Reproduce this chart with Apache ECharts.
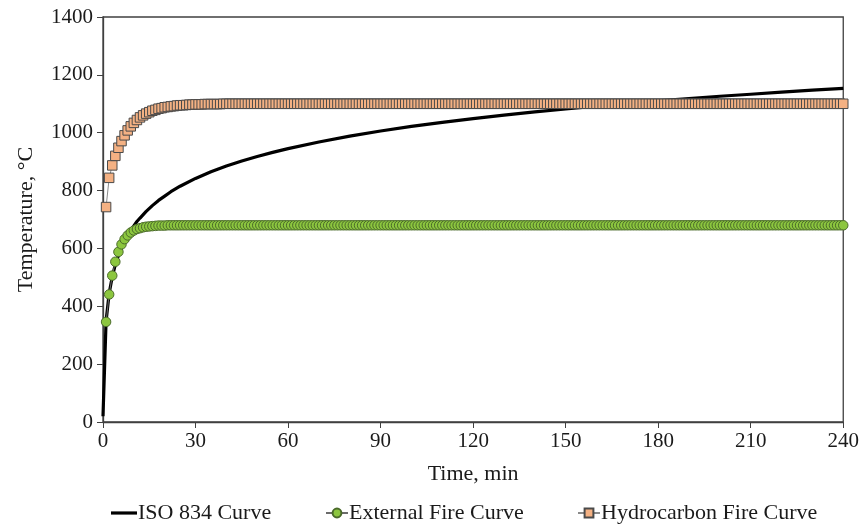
<!DOCTYPE html>
<html>
<head>
<meta charset="utf-8">
<script src="https://cdn.jsdelivr.net/npm/echarts@6/dist/echarts.min.js"></script>
<style>
  html, body { margin: 0; padding: 0; background: #fff; }
  #chart { width: 862px; height: 524px; }
</style>
</head>
<body>
<div id="chart"></div>
<script>
// ISO 834 curve, read at selected minutes
const isoTime = [0, 1, 2, 3, 4, 5, 6, 7, 8, 9, 10, 11, 12, 14, 16, 18, 20, 22, 25, 30, 35, 40, 45, 50, 55, 60,
  70, 80, 90, 100, 110, 120, 130, 140, 150, 160, 170, 180, 190, 200, 210, 220, 230, 240];
const isoTemp = [20, 349, 445, 502, 544, 576, 603, 626, 645, 663, 678, 693, 705, 728, 748, 766, 781, 796, 815, 842, 865, 885, 902, 918, 932, 945,
  968, 988, 1006, 1022, 1036, 1049, 1061, 1072, 1082, 1092, 1101, 1110, 1118, 1126, 1133, 1140, 1147, 1153];

// External fire curve, one marker per minute (t = 1..240)
const externalTemp = [
  346, 441, 506, 554, 588, 614, 632, 645, 655, 662,       // 1-10
  667, 670, 673, 675, 676, 677, 678, 679, 679, 679,       // 11-20
  680, 680, 680, 680, 680, 680, 680, 680, 680, 680,       // 21-30
  680, 680, 680, 680, 680, 680, 680, 680, 680, 680,       // 31-40
  680, 680, 680, 680, 680, 680, 680, 680, 680, 680,       // 41-50
  680, 680, 680, 680, 680, 680, 680, 680, 680, 680,       // 51-60
  680, 680, 680, 680, 680, 680, 680, 680, 680, 680,       // 61-70
  680, 680, 680, 680, 680, 680, 680, 680, 680, 680,       // 71-80
  680, 680, 680, 680, 680, 680, 680, 680, 680, 680,       // 81-90
  680, 680, 680, 680, 680, 680, 680, 680, 680, 680,       // 91-100
  680, 680, 680, 680, 680, 680, 680, 680, 680, 680,       // 101-110
  680, 680, 680, 680, 680, 680, 680, 680, 680, 680,       // 111-120
  680, 680, 680, 680, 680, 680, 680, 680, 680, 680,       // 121-130
  680, 680, 680, 680, 680, 680, 680, 680, 680, 680,       // 131-140
  680, 680, 680, 680, 680, 680, 680, 680, 680, 680,       // 141-150
  680, 680, 680, 680, 680, 680, 680, 680, 680, 680,       // 151-160
  680, 680, 680, 680, 680, 680, 680, 680, 680, 680,       // 161-170
  680, 680, 680, 680, 680, 680, 680, 680, 680, 680,       // 171-180
  680, 680, 680, 680, 680, 680, 680, 680, 680, 680,       // 181-190
  680, 680, 680, 680, 680, 680, 680, 680, 680, 680,       // 191-200
  680, 680, 680, 680, 680, 680, 680, 680, 680, 680,       // 201-210
  680, 680, 680, 680, 680, 680, 680, 680, 680, 680,       // 211-220
  680, 680, 680, 680, 680, 680, 680, 680, 680, 680,       // 221-230
  680, 680, 680, 680, 680, 680, 680, 680, 680, 680        // 231-240
];

// Hydrocarbon fire curve, one marker per minute (t = 1..240)
const hydroTemp = [
  743, 844, 887, 920, 948, 971, 991, 1008, 1022, 1034,            // 1-10
  1044, 1053, 1060, 1066, 1071, 1076, 1079, 1083, 1085, 1088,     // 11-20
  1089, 1091, 1092, 1094, 1095, 1095, 1096, 1097, 1097, 1098,     // 21-30
  1098, 1098, 1099, 1099, 1099, 1099, 1099, 1099, 1100, 1100,     // 31-40
  1100, 1100, 1100, 1100, 1100, 1100, 1100, 1100, 1100, 1100,     // 41-50
  1100, 1100, 1100, 1100, 1100, 1100, 1100, 1100, 1100, 1100,     // 51-60
  1100, 1100, 1100, 1100, 1100, 1100, 1100, 1100, 1100, 1100,     // 61-70
  1100, 1100, 1100, 1100, 1100, 1100, 1100, 1100, 1100, 1100,     // 71-80
  1100, 1100, 1100, 1100, 1100, 1100, 1100, 1100, 1100, 1100,     // 81-90
  1100, 1100, 1100, 1100, 1100, 1100, 1100, 1100, 1100, 1100,     // 91-100
  1100, 1100, 1100, 1100, 1100, 1100, 1100, 1100, 1100, 1100,     // 101-110
  1100, 1100, 1100, 1100, 1100, 1100, 1100, 1100, 1100, 1100,     // 111-120
  1100, 1100, 1100, 1100, 1100, 1100, 1100, 1100, 1100, 1100,     // 121-130
  1100, 1100, 1100, 1100, 1100, 1100, 1100, 1100, 1100, 1100,     // 131-140
  1100, 1100, 1100, 1100, 1100, 1100, 1100, 1100, 1100, 1100,     // 141-150
  1100, 1100, 1100, 1100, 1100, 1100, 1100, 1100, 1100, 1100,     // 151-160
  1100, 1100, 1100, 1100, 1100, 1100, 1100, 1100, 1100, 1100,     // 161-170
  1100, 1100, 1100, 1100, 1100, 1100, 1100, 1100, 1100, 1100,     // 171-180
  1100, 1100, 1100, 1100, 1100, 1100, 1100, 1100, 1100, 1100,     // 181-190
  1100, 1100, 1100, 1100, 1100, 1100, 1100, 1100, 1100, 1100,     // 191-200
  1100, 1100, 1100, 1100, 1100, 1100, 1100, 1100, 1100, 1100,     // 201-210
  1100, 1100, 1100, 1100, 1100, 1100, 1100, 1100, 1100, 1100,     // 211-220
  1100, 1100, 1100, 1100, 1100, 1100, 1100, 1100, 1100, 1100,     // 221-230
  1100, 1100, 1100, 1100, 1100, 1100, 1100, 1100, 1100, 1100      // 231-240
];

const seriesNames = ['ISO 834 Curve', 'External Fire Curve', 'Hydrocarbon Fire Curve'];

const font = 'Liberation Serif, Times New Roman, serif';
const textColor = '#1a1a1a';
const axisColor = '#404040';

const isoData = isoTime.map((t, i) => [t, isoTemp[i]]);
const externalData = externalTemp.map((v, i) => [i + 1, v]);
const hydroData = hydroTemp.map((v, i) => [i + 1, v]);

const chart = echarts.init(document.getElementById('chart'));

// one legend per item so each sits where the original puts it
function legendAt(item, left, width) {
  return {
    data: [item],
    left: left,
    top: 502,
    itemWidth: width,
    itemHeight: 11,
    itemGap: 0,
    padding: 0,
    textStyle: { fontFamily: font, fontSize: 22, color: textColor, padding: [0, 0, 0, -4] }
  };
}

const option = {
  animation: false,
  textStyle: { fontFamily: font, color: textColor },
  grid: {
    left: 103,
    right: 17,
    top: 17,
    bottom: 102,
    show: true,
    borderColor: axisColor,
    borderWidth: 1.3
  },
  legend: [
    // plain thick line for the ISO curve, no marker
    legendAt({ name: seriesNames[0], icon: 'path://M0,0L26,0L26,3.2L0,3.2Z', itemStyle: { color: '#000' } }, 111, 26),
    legendAt(seriesNames[1], 325, 22),
    legendAt(seriesNames[2], 577, 22)
  ],
  xAxis: {
    type: 'value',
    min: 0,
    max: 240,
    interval: 30,
    name: 'Time, min',
    nameLocation: 'middle',
    nameGap: 41,
    nameTextStyle: { fontFamily: font, fontSize: 22, color: textColor },
    axisLine: { lineStyle: { color: axisColor, width: 1.3 } },
    axisTick: { show: true, inside: false, length: 6, lineStyle: { color: axisColor } },
    axisLabel: { fontFamily: font, fontSize: 21, color: textColor, margin: 9, formatter: v => String(v) },
    splitLine: { show: false }
  },
  yAxis: {
    type: 'value',
    min: 0,
    max: 1400,
    interval: 200,
    name: 'Temperature, °C',
    nameLocation: 'middle',
    nameGap: 66,
    nameTextStyle: { fontFamily: font, fontSize: 22, color: textColor },
    axisLine: { show: true, lineStyle: { color: axisColor, width: 1.3 } },
    axisTick: { show: true, inside: false, length: 6, lineStyle: { color: axisColor } },
    axisLabel: { fontFamily: font, fontSize: 21, color: textColor, margin: 10, formatter: v => String(v) },
    splitLine: { show: false }
  },
  series: [
    {
      name: seriesNames[0],
      type: 'line',
      data: isoData,
      symbol: 'none',
      lineStyle: { color: '#000', width: 3.2 },
      itemStyle: { color: '#000' },
      z: 2
    },
    {
      name: seriesNames[1],
      type: 'line',
      data: externalData,
      symbol: 'circle',
      symbolSize: 9.5,
      showAllSymbol: true,
      lineStyle: { color: '#6b6b6b', width: 1 },
      itemStyle: { color: '#8cc63f', borderColor: '#4a6a2a', borderWidth: 1 },
      z: 3
    },
    {
      name: seriesNames[2],
      type: 'line',
      data: hydroData,
      symbol: 'rect',
      symbolSize: 9.5,
      showAllSymbol: true,
      lineStyle: { color: '#8a8a8a', width: 1 },
      itemStyle: { color: '#f4b183', borderColor: '#4a4a4a', borderWidth: 1 },
      z: 4
    }
  ]
};

chart.setOption(option);
</script>
</body>
</html>
